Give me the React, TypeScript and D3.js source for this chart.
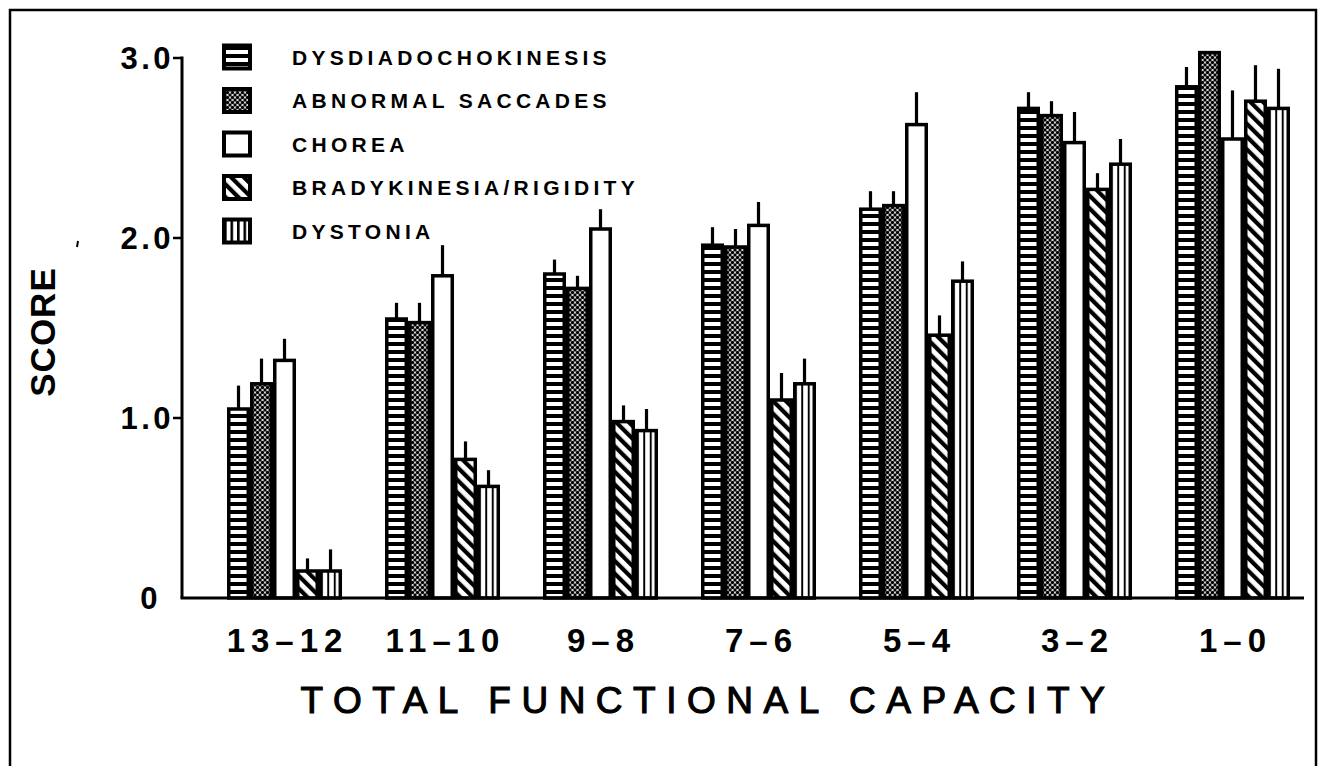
import React from "react";
import * as d3 from "d3";

const categories = ["13-12", "11-10", "9-8", "7-6", "5-4", "3-2", "1-0"];
const seriesNames = [
  "DYSDIADOCHOKINESIS",
  "ABNORMAL SACCADES",
  "CHOREA",
  "BRADYKINESIA/RIGIDITY",
  "DYSTONIA",
];
const dysdiadochokinesis = [1.05, 1.55, 1.8, 1.96, 2.16, 2.72, 2.84];
const dysdiadochokinesisErr = [1.18, 1.64, 1.88, 2.06, 2.26, 2.81, 2.95];
const abnormalSaccades = [1.19, 1.53, 1.72, 1.95, 2.18, 2.68, 3.03];
const abnormalSaccadesErr = [1.33, 1.64, 1.79, 2.05, 2.26, 2.76, 3.03];
const chorea = [1.32, 1.79, 2.05, 2.07, 2.63, 2.53, 2.55];
const choreaErr = [1.44, 1.96, 2.16, 2.2, 2.81, 2.7, 2.82];
const bradykinesia = [0.15, 0.77, 0.98, 1.1, 1.46, 2.27, 2.76];
const bradykinesiaErr = [0.22, 0.87, 1.07, 1.25, 1.57, 2.36, 2.96];
const dystonia = [0.15, 0.62, 0.93, 1.19, 1.76, 2.41, 2.72];
const dystoniaErr = [0.27, 0.71, 1.05, 1.33, 1.87, 2.55, 2.94];
const yTicks = [0, 1, 2, 3];
const yTickLabels = ["0", "1.0", "2.0", "3.0"];

const values = [dysdiadochokinesis, abnormalSaccades, chorea, bradykinesia, dystonia];
const errs = [dysdiadochokinesisErr, abnormalSaccadesErr, choreaErr, bradykinesiaErr, dystoniaErr];
const fills = ["url(#pHoriz)", "url(#pDots)", "#fff", "url(#pDiag)", "url(#pVert)"];
const legendFills = ["url(#pHoriz)", "url(#pDots)", "#fff", "url(#pDiag)", "url(#pVert4)"];

const W = 1324;
const H = 766;
const FONT = "'Liberation Sans', Arial, Helvetica, sans-serif";

export default function App() {
  const y = d3.scaleLinear().domain([0, 3]).range([598, 58]);
  const x = d3
    .scaleBand<string>()
    .domain(categories)
    .range([227, 1290])
    .paddingInner(0.272)
    .paddingOuter(0);
  const xs = d3
    .scaleBand<number>()
    .domain(d3.range(seriesNames.length))
    .range([0, x.bandwidth()]);

  const axisX = 182;
  const base = y(0);

  return (
    <svg
      width={W}
      height={H}
      style={{ position: "absolute", left: 0, top: 0, background: "#fff" }}
    >
      <defs>
        <pattern id="pHoriz" width="8" height="8" patternUnits="userSpaceOnUse">
          <rect width="8" height="8" fill="#000" />
          <rect x="0" y="2" width="8" height="4" fill="#fff" />
        </pattern>
        <pattern id="pDots" width="5" height="5" patternUnits="userSpaceOnUse">
          <rect width="5" height="5" fill="#fff" />
          <circle cx="0" cy="0" r="1.7" fill="#000" />
          <circle cx="5" cy="0" r="1.7" fill="#000" />
          <circle cx="0" cy="5" r="1.7" fill="#000" />
          <circle cx="5" cy="5" r="1.7" fill="#000" />
          <circle cx="2.5" cy="2.5" r="1.7" fill="#000" />
        </pattern>
        <pattern
          id="pDiag"
          width="9"
          height="9"
          patternUnits="userSpaceOnUse"
          patternTransform="rotate(-45)"
        >
          <rect width="9" height="9" fill="#fff" />
          <rect x="0" y="0" width="4.2" height="9" fill="#000" />
        </pattern>
        <pattern
          id="pVert"
          patternUnits="objectBoundingBox"
          patternContentUnits="objectBoundingBox"
          width="0.3333"
          height="1"
        >
          <rect width="0.3333" height="1" fill="#fff" />
          <rect x="0" y="0" width="0.1" height="1" fill="#000" />
        </pattern>
        <pattern
          id="pVert4"
          patternUnits="objectBoundingBox"
          patternContentUnits="objectBoundingBox"
          width="0.25"
          height="1"
        >
          <rect width="0.25" height="1" fill="#fff" />
          <rect x="0" y="0" width="0.1" height="1" fill="#000" />
        </pattern>
      </defs>

      {/* frame */}
      <rect x={10} y={10} width={1306} height={800} fill="none" stroke="#000" strokeWidth={2.5} />

      {/* bars */}
      {categories.map((c, ci) =>
        seriesNames.map((s, si) => {
          const v = values[si][ci];
          const e = errs[si][ci];
          const bx = (x(c) as number) + (xs(si) as number);
          const bw = xs.bandwidth();
          return (
            <g key={c + s}>
              <line
                x1={bx + bw / 2}
                x2={bx + bw / 2}
                y1={y(v)}
                y2={y(e)}
                stroke="#000"
                strokeWidth={3.2}
              />
              <rect
                x={bx + 1.75}
                y={y(v)}
                width={bw - 3.5}
                height={base - y(v)}
                fill={fills[si]}
                stroke="#000"
                strokeWidth={3.5}
              />
            </g>
          );
        })
      )}

      {/* axes */}
      <line x1={axisX} x2={axisX} y1={y(3) - 1.5} y2={base} stroke="#000" strokeWidth={3} />
      <line x1={axisX - 1.5} x2={1304} y1={base} y2={base} stroke="#000" strokeWidth={3.2} />
      {yTicks.map((t, i) => (
        <g key={t}>
          {t > 0 && (
            <line x1={axisX - 9} x2={axisX} y1={y(t)} y2={y(t)} stroke="#000" strokeWidth={2.5} />
          )}
          <text
            x={t > 0 ? 174 : 161}
            y={y(t)}
            dy="0.36em"
            textAnchor="end"
            fontFamily={FONT}
            fontWeight="bold"
            fontSize={31}
            letterSpacing={3.5}
          >
            {yTickLabels[i]}
          </text>
        </g>
      ))}

      {/* x labels */}
      {categories.map((c) => (
        <text
          key={c}
          x={(x(c) as number) + x.bandwidth() / 2 + 3}
          y={652}
          textAnchor="middle"
          fontFamily={FONT}
          fontWeight="bold"
          fontSize={33}
          letterSpacing={6}
        >
          {c.replace("-", "\u2013")}
        </text>
      ))}

      {/* axis titles */}
      <text
        transform={`translate(55,332) rotate(-90)`}
        textAnchor="middle"
        fontFamily={FONT}
        fontWeight="bold"
        fontSize={35}
        letterSpacing={1}
      >
        SCORE
      </text>
      <line x1={78} x2={77} y1={241} y2={247} stroke="#000" strokeWidth={2} />
      <text
        x={708}
        y={713}
        textAnchor="middle"
        fontFamily={FONT}
        fontSize={37}
        letterSpacing={10.5}
        stroke="#000"
        strokeWidth={1.1}
      >
        TOTAL FUNCTIONAL CAPACITY
      </text>

      {/* legend */}
      {seriesNames.map((s, i) => {
        const cy = 57 + i * 43.5;
        return (
          <g key={s}>
            <rect
              x={224}
              y={cy - 11.5}
              width={26}
              height={23}
              fill={legendFills[i]}
              stroke="#000"
              strokeWidth={4}
            />
            <text
              x={292}
              y={cy}
              dy="0.36em"
              fontFamily={FONT}
              fontWeight="bold"
              fontSize={21}
              letterSpacing={4.3}
            >
              {s}
            </text>
          </g>
        );
      })}
    </svg>
  );
}
